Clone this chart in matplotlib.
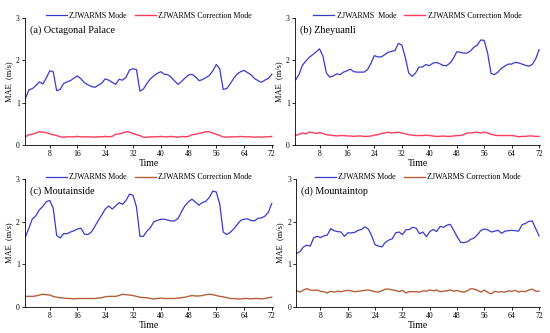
import numpy as np
import matplotlib
matplotlib.use("Agg")
import matplotlib.pyplot as plt

plt.rcParams['font.family'] = ['Liberation Serif', 'DejaVu Serif']

# hours 1..72
time = np.arange(1, 73)
xticks = [8, 16, 24, 32, 40, 48, 56, 64, 72]
yticks = [0, 1, 2, 3]

titles = ["(a) Octagonal Palace", "(b) Zheyuanli", "(c) Moutainside", "(d) Mountaintop"]
labels_mode = ["ZJWARMS Mode", "ZJWARMS  Mode", "ZJWARMS Mode", "ZJWARMS Mode"]
label_corr = "ZJWARMS Correction Mode"

mode_a = [1.10, 1.30, 1.33, 1.40, 1.49, 1.44, 1.58, 1.75, 1.73, 1.28, 1.31, 1.45,
          1.49, 1.52, 1.58, 1.63, 1.56, 1.47, 1.42, 1.38, 1.36, 1.41, 1.46, 1.56,
          1.53, 1.48, 1.43, 1.55, 1.53, 1.60, 1.77, 1.80, 1.78, 1.27, 1.32, 1.45,
          1.56, 1.63, 1.69, 1.73, 1.67, 1.66, 1.60, 1.51, 1.43, 1.50, 1.58, 1.65,
          1.67, 1.61, 1.52, 1.54, 1.59, 1.64, 1.75, 1.90, 1.80, 1.31, 1.33, 1.44,
          1.57, 1.67, 1.73, 1.76, 1.71, 1.66, 1.57, 1.52, 1.48, 1.53, 1.57, 1.67]
corr_a = [0.19, 0.24, 0.25, 0.28, 0.31, 0.30, 0.29, 0.26, 0.24, 0.22, 0.19, 0.18,
          0.19, 0.19, 0.19, 0.20, 0.19, 0.19, 0.19, 0.19, 0.18, 0.19, 0.19, 0.20,
          0.19, 0.20, 0.25, 0.26, 0.28, 0.31, 0.30, 0.27, 0.24, 0.22, 0.18, 0.18,
          0.19, 0.19, 0.19, 0.20, 0.19, 0.19, 0.20, 0.19, 0.18, 0.20, 0.19, 0.20,
          0.24, 0.25, 0.27, 0.29, 0.31, 0.31, 0.28, 0.25, 0.22, 0.19, 0.18, 0.19,
          0.19, 0.19, 0.20, 0.19, 0.19, 0.19, 0.18, 0.19, 0.18, 0.19, 0.19, 0.20]

mode_b = [1.53, 1.66, 1.88, 1.98, 2.07, 2.13, 2.20, 2.27, 2.10, 1.70, 1.60, 1.63,
          1.68, 1.66, 1.72, 1.75, 1.79, 1.73, 1.72, 1.72, 1.72, 1.78, 1.93, 2.11,
          2.08, 2.08, 2.13, 2.19, 2.21, 2.23, 2.40, 2.36, 2.07, 1.70, 1.62, 1.70,
          1.84, 1.84, 1.90, 1.87, 1.93, 1.95, 1.92, 1.88, 1.87, 1.93, 2.04, 2.20,
          2.19, 2.17, 2.17, 2.22, 2.31, 2.36, 2.48, 2.47, 2.17, 1.69, 1.66, 1.72,
          1.81, 1.86, 1.91, 1.91, 1.95, 1.94, 1.91, 1.88, 1.86, 1.90, 2.03, 2.25]
corr_b = [0.22, 0.25, 0.28, 0.26, 0.30, 0.29, 0.27, 0.29, 0.27, 0.24, 0.23, 0.22,
          0.21, 0.22, 0.22, 0.21, 0.21, 0.20, 0.21, 0.21, 0.20, 0.20, 0.21, 0.23,
          0.24, 0.27, 0.28, 0.30, 0.28, 0.29, 0.30, 0.28, 0.26, 0.24, 0.23, 0.22,
          0.22, 0.22, 0.23, 0.22, 0.21, 0.20, 0.20, 0.21, 0.20, 0.20, 0.21, 0.22,
          0.22, 0.24, 0.28, 0.28, 0.29, 0.30, 0.28, 0.30, 0.28, 0.25, 0.23, 0.22,
          0.22, 0.22, 0.22, 0.22, 0.21, 0.19, 0.20, 0.20, 0.21, 0.21, 0.20, 0.20]

mode_c = [1.65, 1.85, 2.07, 2.14, 2.28, 2.36, 2.47, 2.50, 2.32, 1.68, 1.62, 1.72,
          1.72, 1.76, 1.79, 1.83, 1.85, 1.71, 1.70, 1.76, 1.89, 2.03, 2.16, 2.30,
          2.37, 2.30, 2.37, 2.45, 2.41, 2.50, 2.65, 2.62, 2.35, 1.66, 1.66, 1.78,
          1.86, 2.00, 2.03, 2.06, 2.06, 2.04, 2.02, 2.02, 2.08, 2.24, 2.38, 2.47,
          2.53, 2.46, 2.39, 2.45, 2.48, 2.57, 2.72, 2.70, 2.42, 1.76, 1.70, 1.75,
          1.83, 1.93, 2.03, 2.06, 2.07, 2.03, 2.02, 2.08, 2.09, 2.13, 2.22, 2.43]
corr_c = [0.25, 0.25, 0.25, 0.26, 0.28, 0.30, 0.29, 0.28, 0.25, 0.23, 0.22, 0.21,
          0.20, 0.20, 0.19, 0.20, 0.20, 0.20, 0.20, 0.20, 0.20, 0.21, 0.22, 0.24,
          0.25, 0.25, 0.25, 0.27, 0.30, 0.29, 0.28, 0.27, 0.25, 0.23, 0.22, 0.22,
          0.20, 0.19, 0.20, 0.21, 0.20, 0.20, 0.20, 0.20, 0.21, 0.22, 0.23, 0.25,
          0.27, 0.26, 0.26, 0.27, 0.29, 0.30, 0.29, 0.27, 0.25, 0.24, 0.22, 0.20,
          0.20, 0.19, 0.19, 0.20, 0.20, 0.19, 0.20, 0.20, 0.19, 0.20, 0.22, 0.23]

mode_d = [1.26, 1.30, 1.41, 1.45, 1.43, 1.62, 1.66, 1.63, 1.67, 1.69, 1.84, 1.79,
          1.77, 1.76, 1.66, 1.74, 1.74, 1.75, 1.80, 1.82, 1.88, 1.83, 1.67, 1.46,
          1.43, 1.41, 1.52, 1.57, 1.60, 1.74, 1.76, 1.70, 1.81, 1.82, 1.87, 1.85,
          1.72, 1.76, 1.65, 1.77, 1.82, 1.77, 1.89, 1.87, 1.92, 1.94, 1.80, 1.65,
          1.52, 1.51, 1.53, 1.59, 1.62, 1.70, 1.80, 1.83, 1.81, 1.76, 1.78, 1.80,
          1.73, 1.78, 1.79, 1.80, 1.79, 1.78, 1.93, 1.96, 2.01, 2.02, 1.84, 1.67]
corr_d = [0.38, 0.35, 0.40, 0.43, 0.40, 0.39, 0.40, 0.37, 0.36, 0.33, 0.37, 0.35,
          0.37, 0.36, 0.38, 0.39, 0.38, 0.36, 0.37, 0.38, 0.39, 0.40, 0.38, 0.36,
          0.35, 0.38, 0.42, 0.42, 0.40, 0.39, 0.36, 0.39, 0.33, 0.36, 0.36, 0.36,
          0.35, 0.38, 0.37, 0.40, 0.38, 0.40, 0.36, 0.37, 0.38, 0.40, 0.37, 0.39,
          0.36, 0.35, 0.38, 0.43, 0.42, 0.39, 0.35, 0.40, 0.34, 0.31, 0.37, 0.35,
          0.36, 0.35, 0.38, 0.37, 0.39, 0.35, 0.37, 0.36, 0.40, 0.42, 0.37, 0.37]

modes = [mode_a, mode_b, mode_c, mode_d]
corrs = [corr_a, corr_b, corr_c, corr_d]
corr_colors = ["#ff3b5c", "#ff3b5c", "#b5603a", "#b5603a"]
blue = "#3a3ad0"

# axes rectangles in figure fractions [left, bottom, width, height]
rects = [
    [0.045, 0.565, 0.451, 0.381],
    [0.536, 0.565, 0.446, 0.381],
    [0.045, 0.078, 0.451, 0.384],
    [0.538, 0.078, 0.444, 0.384],
]

fig = plt.figure(figsize=(5.5, 3.33), dpi=100)

for i in range(4):
    ax = fig.add_axes(rects[i])
    ax.plot(time, modes[i], color=blue, lw=0.9, label=labels_mode[i])
    ax.plot(time, corrs[i], color=corr_colors[i], lw=1.0, label=label_corr)
    ax.set_xlim(0.8, 72.3)
    ax.set_ylim(0, 3)
    ax.set_xticks(xticks)
    ax.set_yticks(yticks)
    ax.tick_params(labelsize=5.5, length=2, width=0.6, pad=1.5)
    for s in ['top', 'right']:
        ax.spines[s].set_visible(False)
    for s in ['left', 'bottom']:
        ax.spines[s].set_linewidth(0.6)
    ax.set_xlabel("Time", fontsize=7, labelpad=1)
    ax.set_ylabel("MAE  (m/s)", fontsize=6, labelpad=2)
    ax.text(0.02, 0.94, titles[i], transform=ax.transAxes, fontsize=7.3,
            va='top', ha='left')
    ax.legend(loc='lower center', bbox_to_anchor=(0.5, 0.97), ncol=2,
              frameon=False, fontsize=5.8, handlelength=2.6, columnspacing=1.0,
              handletextpad=0.3, borderaxespad=0, borderpad=0.2)

fig.savefig("out.png", dpi=100, facecolor="white")
